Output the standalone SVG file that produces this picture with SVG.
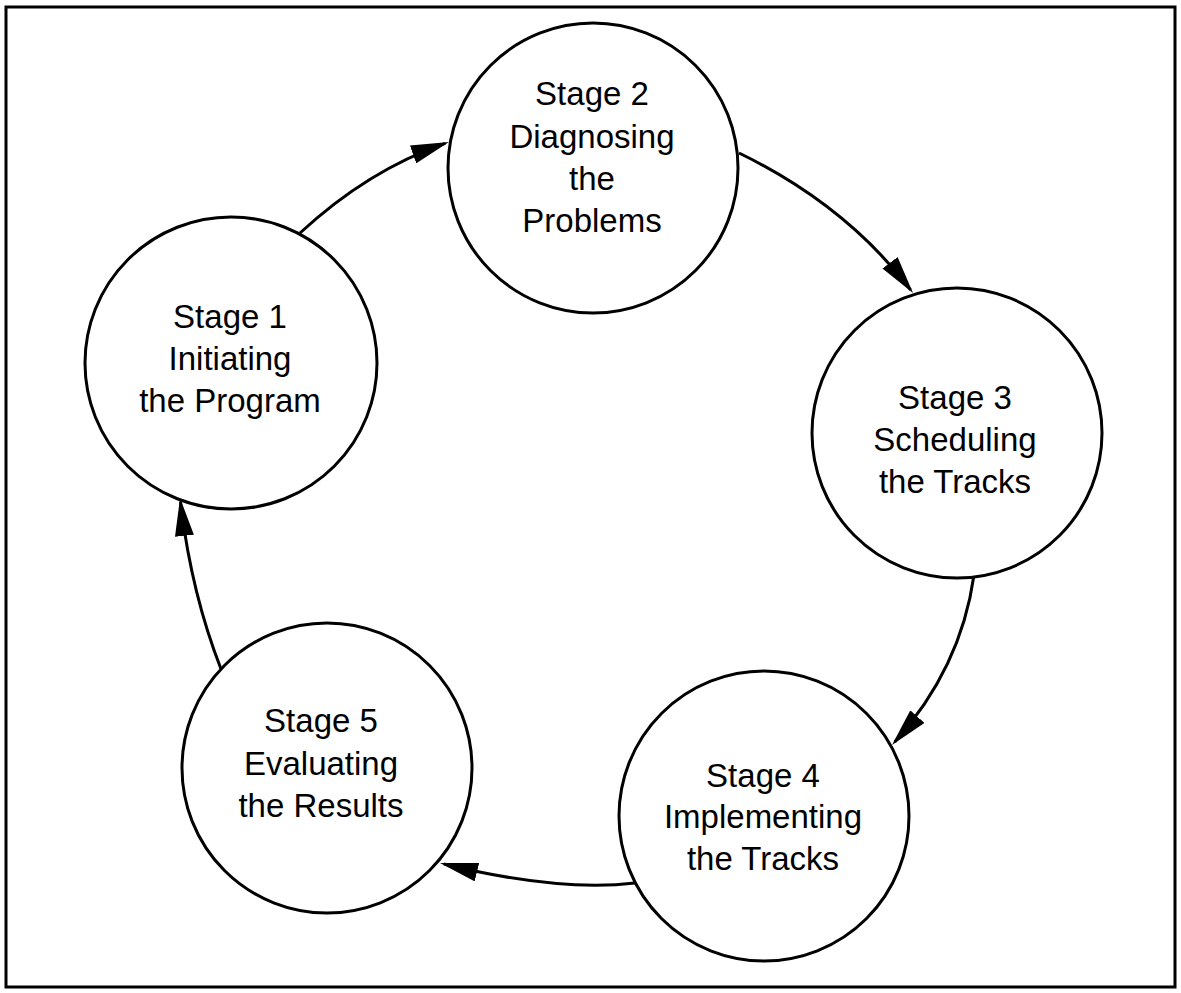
<svg xmlns="http://www.w3.org/2000/svg" width="1181" height="993" viewBox="0 0 1181 993">
  <style>
    .frame { fill: none; stroke: #000; stroke-width: 3; }
    .stage circle { fill: #fff; stroke: #000; stroke-width: 3; }
    .stage text { font-family: "Liberation Sans", Arial, Helvetica, sans-serif; font-size: 33px; fill: #000; text-anchor: middle; }
    .link { fill: none; stroke: #000; stroke-width: 3; marker-end: url(#arrow); }
  </style>
  <defs>
    <marker id="arrow" markerUnits="userSpaceOnUse" viewBox="0 0 38 19" refX="34" refY="9.5" markerWidth="38" markerHeight="19" orient="auto">
      <path d="M0,0 L38,9.5 L0,19 z" fill="#000"/>
    </marker>
  </defs>

  <rect width="1181" height="993" fill="#fff"/>
  <rect class="frame" x="6" y="7" width="1169" height="980"/>

  <!-- cycle connectors -->
  <g id="connectors">
    <path class="link" d="M300,233 Q368,170 445.2,143.3"/>
    <path class="link" d="M739,153 Q846,205 910.6,289.8"/>
    <path class="link" d="M974,575 Q961,668 894.7,742"/>
    <path class="link" d="M635,883 Q558,892 443.9,864"/>
    <path class="link" d="M221,669 Q191,592 180.5,502"/>
  </g>

  <g id="stage1" class="stage">
    <circle cx="231" cy="363" r="146"/>
    <text x="230" y="328">Stage 1</text>
    <text x="230" y="370">Initiating</text>
    <text x="230" y="412">the Program</text>
  </g>

  <g id="stage2" class="stage">
    <circle cx="593" cy="168" r="145"/>
    <text x="592" y="105">Stage 2</text>
    <text x="592" y="148">Diagnosing</text>
    <text x="592" y="190">the</text>
    <text x="592" y="232">Problems</text>
  </g>

  <g id="stage3" class="stage">
    <circle cx="957" cy="433" r="145"/>
    <text x="955" y="409">Stage 3</text>
    <text x="955" y="451">Scheduling</text>
    <text x="955" y="493">the Tracks</text>
  </g>

  <g id="stage4" class="stage">
    <circle cx="764" cy="816" r="145"/>
    <text x="763" y="787">Stage 4</text>
    <text x="763" y="828">Implementing</text>
    <text x="763" y="870">the Tracks</text>
  </g>

  <g id="stage5" class="stage">
    <circle cx="327" cy="768" r="145"/>
    <text x="321" y="732">Stage 5</text>
    <text x="321" y="775">Evaluating</text>
    <text x="321" y="817">the Results</text>
  </g>
</svg>
